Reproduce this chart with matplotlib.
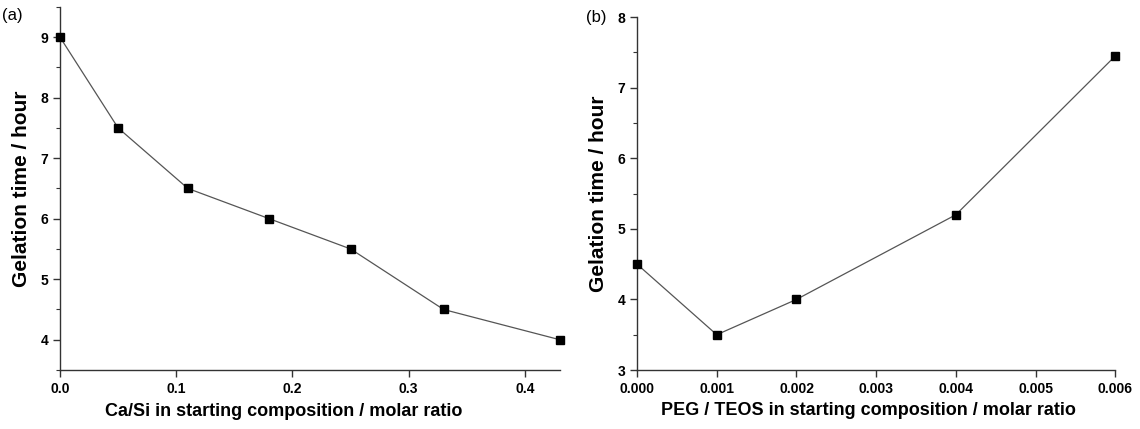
import matplotlib
matplotlib.use("Agg")
import matplotlib.pyplot as plt
from matplotlib.ticker import MultipleLocator, FormatStrFormatter

# Panel (a): Ca/Si ratio vs gelation time
ca_si = [0.0, 0.05, 0.11, 0.18, 0.25, 0.33, 0.43]
gel_a = [9.0, 7.5, 6.5, 6.0, 5.5, 4.5, 4.0]

# Panel (b): PEG/TEOS ratio vs gelation time
peg_teos = [0.0, 0.001, 0.002, 0.004, 0.006]
gel_b = [4.5, 3.5, 4.0, 5.2, 7.45]

plt.rcParams["font.family"] = ["Liberation Sans", "DejaVu Sans"]

fig = plt.figure(figsize=(11.4, 4.29), dpi=100, facecolor="white")
ax_a = fig.add_axes([0.0526, 0.1375, 0.4385, 0.8465])
ax_b = fig.add_axes([0.5588, 0.1375, 0.4195, 0.8225])


def style_axis(ax):
    ax.spines[["top", "right"]].set_visible(False)
    for s in ("left", "bottom"):
        ax.spines[s].set_color("#333333")
        ax.spines[s].set_linewidth(1.0)
    ax.tick_params(which="both", direction="out", colors="#333333", labelcolor="black")
    ax.tick_params(which="major", length=5, width=1.0, labelsize=10)
    ax.tick_params(which="minor", length=3, width=0.8)
    ax.yaxis.set_minor_locator(MultipleLocator(0.5))
    for lbl in ax.get_xticklabels() + ax.get_yticklabels():
        lbl.set_fontweight("bold")


ax_a.plot(ca_si, gel_a, color="#555555", lw=0.9, marker="s", ms=6,
          mfc="black", mec="black", clip_on=False, zorder=3)
ax_a.set_xlim(0, 0.43)
ax_a.set_ylim(3.5, 9.5)
ax_a.xaxis.set_major_locator(MultipleLocator(0.1))
ax_a.yaxis.set_major_locator(MultipleLocator(1))
ax_a.xaxis.set_major_formatter(FormatStrFormatter("%.1f"))
style_axis(ax_a)
ax_a.set_xlabel("Ca/Si in starting composition / molar ratio",
                fontsize=13, fontweight="bold")
ax_a.xaxis.set_label_coords(0.447, -0.09, transform=ax_a.transAxes)
ax_a.set_ylabel("Gelation time / hour", fontsize=15, fontweight="bold", labelpad=7)

ax_b.plot(peg_teos, gel_b, color="#555555", lw=0.9, marker="s", ms=6,
          mfc="black", mec="black", clip_on=False, zorder=3)
ax_b.set_xlim(0, 0.006)
ax_b.set_ylim(3, 8)
ax_b.xaxis.set_major_locator(MultipleLocator(0.001))
ax_b.yaxis.set_major_locator(MultipleLocator(1))
ax_b.xaxis.set_major_formatter(FormatStrFormatter("%.3f"))
style_axis(ax_b)
ax_b.set_xlabel("PEG / TEOS in starting composition / molar ratio",
                fontsize=13, fontweight="bold")
ax_b.xaxis.set_label_coords(0.483, -0.09, transform=ax_b.transAxes)
ax_b.set_ylabel("Gelation time / hour", fontsize=15, fontweight="bold", labelpad=7)

fig.text(0.002, 0.965, "(a)", fontsize=12, ha="left", va="center")
fig.text(0.514, 0.96, "(b)", fontsize=12, ha="left", va="center")

fig.savefig("out.png", dpi=100, facecolor="white")
plt.close(fig)
